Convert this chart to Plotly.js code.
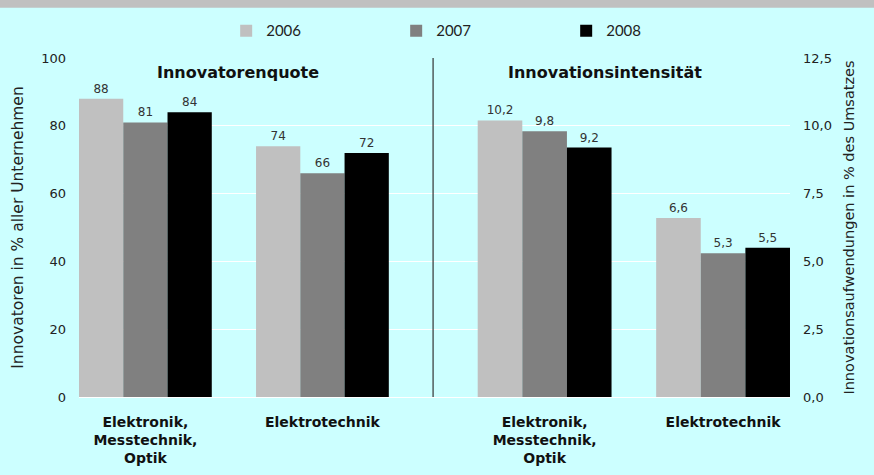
<!DOCTYPE html>
<html>
<head>
<meta charset="utf-8">
<script src="https://cdn.plot.ly/plotly-3.0.1.min.js"></script>
<style>html,body{margin:0;padding:0;background:#CCFFFF;overflow:hidden;}#chart{width:874px;height:475px;}</style>
</head>
<body>
<div id="chart"></div>
<script>
// Data
const categories = ["Elektronik,<br>Messtechnik,<br>Optik", "Elektrotechnik"];
const years = ["2006", "2007", "2008"];
const colors = ["#C0C0C0", "#808080", "#000000"];
// Innovatorenquote (% aller Unternehmen)
const quote2006 = [88, 74];
const quote2007 = [81, 66];
const quote2008 = [84, 72];
// Innovationsintensität (% des Umsatzes)
const intens2006 = [10.2, 6.6];
const intens2007 = [9.8, 5.3];
const intens2008 = [9.2, 5.5];

const quote = [quote2006, quote2007, quote2008];
const intens = [intens2006, intens2007, intens2008];

const labelFont = {family: "DejaVu Sans", size: 12, color: "#333333"};
const traces = [];
years.forEach((y, i) => {
  traces.push({
    type: "bar", name: y, x: categories, y: quote[i],
    xaxis: "x", yaxis: "y", legendgroup: y, showlegend: true,
    marker: {color: colors[i]},
    texttemplate: "%{y}", textposition: "outside",
    textfont: labelFont, cliponaxis: false, hoverinfo: "skip"
  });
});
years.forEach((y, i) => {
  traces.push({
    type: "bar", name: y, x: categories, y: intens[i],
    xaxis: "x2", yaxis: "y2", legendgroup: y, showlegend: false,
    marker: {color: colors[i]},
    texttemplate: "%{y:.1f}", textposition: "outside",
    textfont: labelFont, cliponaxis: false, hoverinfo: "skip"
  });
});

const split = 0.498;
const tickFont = {family: "DejaVu Sans", size: 13, color: "#222222"};
const catFont = {family: "DejaVu Sans", size: 14, color: "#111111", weight: "bold"};
const layout = {
  width: 874, height: 475,
  paper_bgcolor: "#CCFFFF", plot_bgcolor: "#CCFFFF",
  margin: {l: 79, r: 84, t: 58, b: 78, autoexpand: false},
  separators: ",.",
  barmode: "group", bargap: 0.25, bargroupgap: 0,
  showlegend: true,
  legend: {
    orientation: "h", x: 0.207, xanchor: "left", y: 1.08, yanchor: "middle",
    font: {family: "Lato", size: 15, color: "#222222"},
    entrywidth: 125, entrywidthmode: "pixels", itemwidth: 30,
    bgcolor: "rgba(0,0,0,0)", traceorder: "normal"
  },
  xaxis: {
    domain: [0, split], range: [-0.375, 1.625], type: "category", automargin: false,
    showgrid: false, zeroline: false, showline: false, ticks: "",
    tickfont: catFont, ticklabelstandoff: 15, fixedrange: true
  },
  xaxis2: {
    domain: [split, 1], range: [-0.625, 1.375], type: "category", anchor: "y2", automargin: false,
    showgrid: false, zeroline: false, showline: false, ticks: "",
    tickfont: catFont, ticklabelstandoff: 15, fixedrange: true
  },
  yaxis: {
    range: [0, 100], dtick: 20, tick0: 0, anchor: "x", automargin: false,
    showgrid: true, gridcolor: "#FFFFFF", gridwidth: 1,
    zeroline: true, zerolinecolor: "#FFFFFF", zerolinewidth: 1,
    showline: false, ticks: "", tickfont: tickFont, ticklabelstandoff: 12,
    title: {text: "Innovatoren in % aller Unternehmen", font: {family: "DejaVu Sans", size: 15.5, color: "#222222"}, standoff: 13}
  },
  yaxis2: {
    range: [0, 12.5], dtick: 2.5, tick0: 0, tickformat: ".1f", anchor: "x2", side: "right", automargin: false,
    showgrid: true, gridcolor: "#FFFFFF", gridwidth: 1,
    zeroline: true, zerolinecolor: "#FFFFFF", zerolinewidth: 1,
    showline: false, ticks: "", tickfont: tickFont, ticklabelstandoff: 12,
    title: {text: "Innovationsaufwendungen in % des Umsatzes", font: {family: "DejaVu Sans", size: 14.5, color: "#222222"}, standoff: 12}
  },
  shapes: [
    {type: "rect", xref: "paper", yref: "paper", x0: -0.12, x1: 1.13, y0: 1.148, y1: 1.18,
     fillcolor: "#C0C0C0", line: {width: 0}, layer: "below"},
    {type: "line", xref: "paper", yref: "paper", x0: split, x1: split, y0: 0, y1: 1,
     line: {color: "#333333", width: 1.2}}
  ],
  annotations: [
    {text: "Innovatorenquote", xref: "paper", yref: "paper", x: 0.2236, y: 0.958,
     showarrow: false, xanchor: "center", yanchor: "middle",
     font: {family: "DejaVu Sans", size: 16, color: "#111111", weight: "bold"}},
    {text: "Innovationsintensität", xref: "paper", yref: "paper", x: 0.74, y: 0.958,
     showarrow: false, xanchor: "center", yanchor: "middle",
     font: {family: "DejaVu Sans", size: 16, color: "#111111", weight: "bold"}}
  ]
};
Plotly.newPlot("chart", traces, layout, {staticPlot: true, displayModeBar: false});
</script>
</body>
</html>
